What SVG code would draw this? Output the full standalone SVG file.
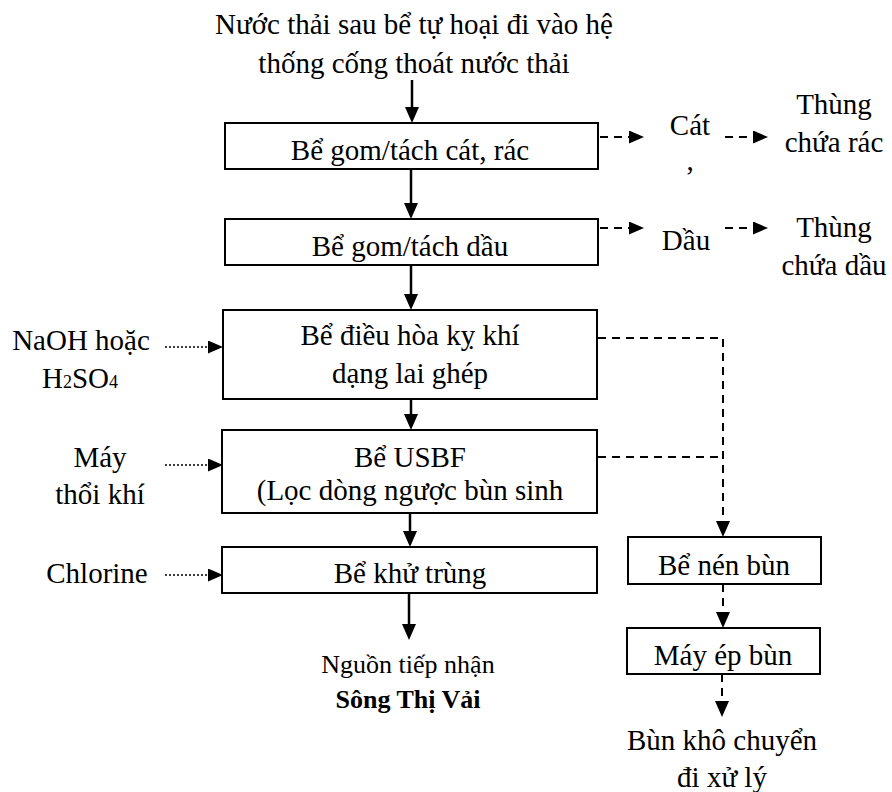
<svg xmlns="http://www.w3.org/2000/svg" width="892" height="792" viewBox="0 0 892 792">
<style>
text{font-family:"Liberation Serif","Times New Roman",serif;font-size:29px;fill:#000}
.c{text-anchor:middle}
.box{fill:#fff;stroke:#000;stroke-width:2}
.solid{stroke:#000;stroke-width:2.5;fill:none}
.dash{stroke:#000;stroke-width:2;fill:none;stroke-dasharray:8 6}
.dot{stroke:#000;stroke-width:1.5;fill:none;stroke-dasharray:2 2}
</style>
<defs>
<marker id="ah" markerUnits="userSpaceOnUse" markerWidth="16" markerHeight="14" refX="8" refY="7" orient="auto"><path d="M0,0 L16,7 L0,14 Z" fill="#000"/></marker>
<marker id="ahs" markerUnits="userSpaceOnUse" markerWidth="15" markerHeight="13" refX="7" refY="6.5" orient="auto"><path d="M0,0 L15,6.5 L0,13 Z" fill="#000"/></marker>
</defs>
<g id="connectors">
<line class="solid" x1="412" y1="80" x2="412" y2="115" marker-end="url(#ah)"/>
<line class="solid" x1="411" y1="169" x2="411" y2="211" marker-end="url(#ah)"/>
<line class="solid" x1="411" y1="265" x2="411" y2="302" marker-end="url(#ah)"/>
<line class="solid" x1="411" y1="399" x2="411" y2="422" marker-end="url(#ah)"/>
<line class="solid" x1="410" y1="513" x2="410" y2="539" marker-end="url(#ah)"/>
<line class="solid" x1="409" y1="593" x2="409" y2="632" marker-end="url(#ah)"/>
<line class="dash" x1="600" y1="137" x2="636" y2="137" marker-end="url(#ahs)"/>
<line class="dash" x1="725" y1="137" x2="760" y2="137" marker-end="url(#ahs)"/>
<line class="dash" x1="600" y1="228" x2="636" y2="228" marker-end="url(#ahs)"/>
<line class="dash" x1="725" y1="228" x2="760" y2="228" marker-end="url(#ahs)"/>
<line class="dot" x1="165" y1="347" x2="215" y2="347" marker-end="url(#ahs)"/>
<line class="dot" x1="165" y1="465" x2="215" y2="465" marker-end="url(#ahs)"/>
<line class="dot" x1="165" y1="575" x2="215" y2="575" marker-end="url(#ahs)"/>
<polyline class="dash" points="598,338 723,338 723,529" marker-end="url(#ah)"/>
<line class="dash" x1="598" y1="457" x2="723" y2="457"/>
<line class="dash" x1="723" y1="584" x2="723" y2="620" marker-end="url(#ah)"/>
<line class="dash" x1="722" y1="674" x2="722" y2="709" marker-end="url(#ah)"/>
</g>
<g id="source"><text class="c" x="414" y="34">Nước thải sau bể tự hoại đi vào hệ</text><text class="c" x="414" y="73">thống cống thoát nước thải</text></g>
<g id="be-gom-cat"><rect class="box" x="225" y="123" width="373" height="46"/><text class="c" x="410" y="160">Bể gom/tách cát, rác</text></g>
<g id="be-gom-dau"><rect class="box" x="225" y="219" width="373" height="46"/><text class="c" x="410" y="256">Bể gom/tách dầu</text></g>
<g id="be-dieu-hoa"><rect class="box" x="223" y="310" width="374" height="89"/><text class="c" x="410" y="345">Bể điều hòa kỵ khí</text><text class="c" x="410" y="383">dạng lai ghép</text></g>
<g id="be-usbf"><rect class="box" x="222" y="430" width="375" height="83"/><text class="c" x="410" y="467">Bể USBF</text><text class="c" x="410" y="500">(Lọc dòng ngược bùn sinh</text></g>
<g id="be-khu-trung"><rect class="box" x="222" y="547" width="375" height="46"/><text class="c" x="410" y="583">Bể khử trùng</text></g>
<g id="nguon-tiep-nhan"><text class="c" x="408" y="673" style="font-size:26px">Nguồn tiếp nhận</text><text class="c" x="408" y="708" style="font-size:26px;font-weight:bold">Sông Thị Vải</text></g>
<g id="cat"><text class="c" x="690" y="135">Cát</text><text class="c" x="690" y="170">,</text></g>
<g id="thung-rac"><text class="c" x="834" y="114">Thùng</text><text class="c" x="834" y="152">chứa rác</text></g>
<g id="dau"><text class="c" x="686" y="250">Dầu</text></g>
<g id="thung-dau"><text class="c" x="834" y="237">Thùng</text><text class="c" x="834" y="275">chứa dầu</text></g>
<g id="naoh"><text class="c" x="81" y="350">NaOH hoặc</text><text x="42" y="388">H<tspan font-size="18">2</tspan>SO<tspan font-size="18">4</tspan></text></g>
<g id="may-thoi-khi"><text class="c" x="100" y="467">Máy</text><text class="c" x="100" y="504">thổi khí</text></g>
<g id="chlorine"><text class="c" x="97" y="583">Chlorine</text></g>
<g id="be-nen-bun"><rect class="box" x="628" y="537" width="193" height="47"/><text class="c" x="724" y="575">Bể nén bùn</text></g>
<g id="may-ep-bun"><rect class="box" x="627" y="628" width="193" height="46"/><text class="c" x="723" y="665">Máy ép bùn</text></g>
<g id="bun-kho"><text class="c" x="722" y="750">Bùn khô chuyển</text><text class="c" x="722" y="787">đi xử lý</text></g>
</svg>
